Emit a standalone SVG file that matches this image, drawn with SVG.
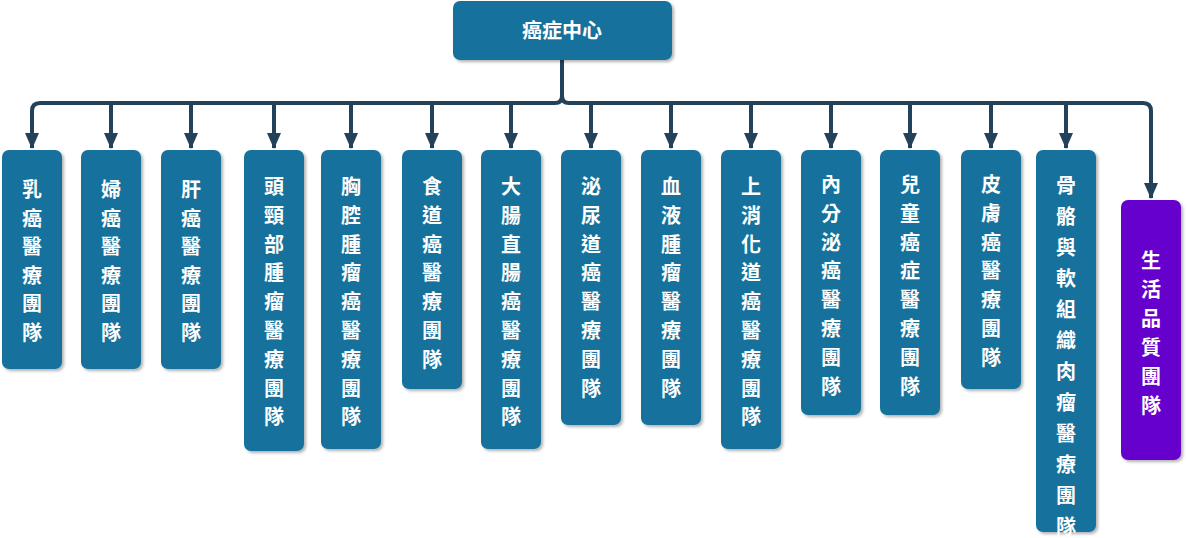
<svg xmlns="http://www.w3.org/2000/svg" width="1187" height="538" viewBox="0 0 1187 538">
<defs>
<marker id="ah" markerWidth="16" markerHeight="14" refX="15" refY="7" orient="auto" markerUnits="userSpaceOnUse"><path d="M0,0 L16,7 L0,14 Z" fill="#23425a"/></marker>
<filter id="sh" x="-20%" y="-20%" width="140%" height="140%"><feDropShadow dx="2" dy="2" stdDeviation="1.5" flood-color="#000" flood-opacity="0.3"/></filter>
<style>
.n{fill:#12729c;filter:url(#sh)}
.p{fill:#6600cc;filter:url(#sh)}
text{font-family:"Noto Sans CJK TC","Noto Sans CJK SC",sans-serif;font-weight:bold;font-size:20px;fill:#fff;text-anchor:middle}
.c{fill:none;stroke:#23425a;stroke-width:4;stroke-linejoin:round}
</style>
</defs>
<g id="connectors">
<path class="c" d="M562,60 V96 Q562,103 555,103 H40 Q32,103 32,111 V148" marker-end="url(#ah)"/>
<path class="c" d="M562,96 Q562,103 569,103 H1143 Q1151,103 1151,111 V198" marker-end="url(#ah)"/>
<path class="c" d="M111,103 Q111,110 111,148" marker-end="url(#ah)"/>
<path class="c" d="M191,103 V148" marker-end="url(#ah)"/>
<path class="c" d="M274,103 V148" marker-end="url(#ah)"/>
<path class="c" d="M351,103 V148" marker-end="url(#ah)"/>
<path class="c" d="M432,103 V148" marker-end="url(#ah)"/>
<path class="c" d="M511,103 V148" marker-end="url(#ah)"/>
<path class="c" d="M591,103 V148" marker-end="url(#ah)"/>
<path class="c" d="M671,103 V148" marker-end="url(#ah)"/>
<path class="c" d="M751,103 V148" marker-end="url(#ah)"/>
<path class="c" d="M831,103 V148" marker-end="url(#ah)"/>
<path class="c" d="M910,103 V148" marker-end="url(#ah)"/>
<path class="c" d="M991,103 V148" marker-end="url(#ah)"/>
<path class="c" d="M1066,103 V148" marker-end="url(#ah)"/>
</g>
<g id="root"><rect class="n" x="453" y="1" width="219" height="59" rx="7"/><text x="562" y="38">癌症中心</text></g>
<g id="n1"><rect class="n" x="2" y="150" width="60" height="219" rx="7"/><text x="32" y="197"><tspan x="32">乳</tspan><tspan x="32" dy="28.5">癌</tspan><tspan x="32" dy="28.5">醫</tspan><tspan x="32" dy="28.5">療</tspan><tspan x="32" dy="28.5">團</tspan><tspan x="32" dy="28.5">隊</tspan></text></g>
<g id="n2"><rect class="n" x="81" y="150" width="60" height="219" rx="7"/><text x="111" y="197"><tspan x="111">婦</tspan><tspan x="111" dy="28.5">癌</tspan><tspan x="111" dy="28.5">醫</tspan><tspan x="111" dy="28.5">療</tspan><tspan x="111" dy="28.5">團</tspan><tspan x="111" dy="28.5">隊</tspan></text></g>
<g id="n3"><rect class="n" x="161" y="150" width="60" height="219" rx="7"/><text x="191" y="197"><tspan x="191">肝</tspan><tspan x="191" dy="28.5">癌</tspan><tspan x="191" dy="28.5">醫</tspan><tspan x="191" dy="28.5">療</tspan><tspan x="191" dy="28.5">團</tspan><tspan x="191" dy="28.5">隊</tspan></text></g>
<g id="n4"><rect class="n" x="244" y="150" width="60" height="301" rx="7"/><text x="274" y="194"><tspan x="274">頭</tspan><tspan x="274" dy="28.8">頸</tspan><tspan x="274" dy="28.8">部</tspan><tspan x="274" dy="28.8">腫</tspan><tspan x="274" dy="28.8">瘤</tspan><tspan x="274" dy="28.8">醫</tspan><tspan x="274" dy="28.8">療</tspan><tspan x="274" dy="28.8">團</tspan><tspan x="274" dy="28.8">隊</tspan></text></g>
<g id="n5"><rect class="n" x="321" y="150" width="60" height="299" rx="7"/><text x="351" y="194"><tspan x="351">胸</tspan><tspan x="351" dy="28.8">腔</tspan><tspan x="351" dy="28.8">腫</tspan><tspan x="351" dy="28.8">瘤</tspan><tspan x="351" dy="28.8">癌</tspan><tspan x="351" dy="28.8">醫</tspan><tspan x="351" dy="28.8">療</tspan><tspan x="351" dy="28.8">團</tspan><tspan x="351" dy="28.8">隊</tspan></text></g>
<g id="n6"><rect class="n" x="402" y="150" width="60" height="239" rx="7"/><text x="432" y="194"><tspan x="432">食</tspan><tspan x="432" dy="28.8">道</tspan><tspan x="432" dy="28.8">癌</tspan><tspan x="432" dy="28.8">醫</tspan><tspan x="432" dy="28.8">療</tspan><tspan x="432" dy="28.8">團</tspan><tspan x="432" dy="28.8">隊</tspan></text></g>
<g id="n7"><rect class="n" x="481" y="150" width="60" height="299" rx="7"/><text x="511" y="194"><tspan x="511">大</tspan><tspan x="511" dy="28.8">腸</tspan><tspan x="511" dy="28.8">直</tspan><tspan x="511" dy="28.8">腸</tspan><tspan x="511" dy="28.8">癌</tspan><tspan x="511" dy="28.8">醫</tspan><tspan x="511" dy="28.8">療</tspan><tspan x="511" dy="28.8">團</tspan><tspan x="511" dy="28.8">隊</tspan></text></g>
<g id="n8"><rect class="n" x="561" y="150" width="60" height="275" rx="7"/><text x="591" y="194"><tspan x="591">泌</tspan><tspan x="591" dy="28.8">尿</tspan><tspan x="591" dy="28.8">道</tspan><tspan x="591" dy="28.8">癌</tspan><tspan x="591" dy="28.8">醫</tspan><tspan x="591" dy="28.8">療</tspan><tspan x="591" dy="28.8">團</tspan><tspan x="591" dy="28.8">隊</tspan></text></g>
<g id="n9"><rect class="n" x="641" y="150" width="60" height="275" rx="7"/><text x="671" y="194"><tspan x="671">血</tspan><tspan x="671" dy="28.8">液</tspan><tspan x="671" dy="28.8">腫</tspan><tspan x="671" dy="28.8">瘤</tspan><tspan x="671" dy="28.8">醫</tspan><tspan x="671" dy="28.8">療</tspan><tspan x="671" dy="28.8">團</tspan><tspan x="671" dy="28.8">隊</tspan></text></g>
<g id="n10"><rect class="n" x="721" y="150" width="60" height="299" rx="7"/><text x="751" y="194"><tspan x="751">上</tspan><tspan x="751" dy="28.8">消</tspan><tspan x="751" dy="28.8">化</tspan><tspan x="751" dy="28.8">道</tspan><tspan x="751" dy="28.8">癌</tspan><tspan x="751" dy="28.8">醫</tspan><tspan x="751" dy="28.8">療</tspan><tspan x="751" dy="28.8">團</tspan><tspan x="751" dy="28.8">隊</tspan></text></g>
<g id="n11"><rect class="n" x="801" y="150" width="60" height="265" rx="7"/><text x="831" y="192"><tspan x="831">內</tspan><tspan x="831" dy="28.8">分</tspan><tspan x="831" dy="28.8">泌</tspan><tspan x="831" dy="28.8">癌</tspan><tspan x="831" dy="28.8">醫</tspan><tspan x="831" dy="28.8">療</tspan><tspan x="831" dy="28.8">團</tspan><tspan x="831" dy="28.8">隊</tspan></text></g>
<g id="n12"><rect class="n" x="880" y="150" width="60" height="265" rx="7"/><text x="910" y="192"><tspan x="910">兒</tspan><tspan x="910" dy="28.8">童</tspan><tspan x="910" dy="28.8">癌</tspan><tspan x="910" dy="28.8">症</tspan><tspan x="910" dy="28.8">醫</tspan><tspan x="910" dy="28.8">療</tspan><tspan x="910" dy="28.8">團</tspan><tspan x="910" dy="28.8">隊</tspan></text></g>
<g id="n13"><rect class="n" x="961" y="150" width="60" height="239" rx="7"/><text x="991" y="192"><tspan x="991">皮</tspan><tspan x="991" dy="28.8">膚</tspan><tspan x="991" dy="28.8">癌</tspan><tspan x="991" dy="28.8">醫</tspan><tspan x="991" dy="28.8">療</tspan><tspan x="991" dy="28.8">團</tspan><tspan x="991" dy="28.8">隊</tspan></text></g>
<g id="n14"><rect class="n" x="1036" y="150" width="60" height="382" rx="7"/><text x="1066" y="193"><tspan x="1066">骨</tspan><tspan x="1066" dy="31">骼</tspan><tspan x="1066" dy="31">與</tspan><tspan x="1066" dy="31">軟</tspan><tspan x="1066" dy="31">組</tspan><tspan x="1066" dy="31">織</tspan><tspan x="1066" dy="31">肉</tspan><tspan x="1066" dy="31">瘤</tspan><tspan x="1066" dy="31">醫</tspan><tspan x="1066" dy="31">療</tspan><tspan x="1066" dy="31">團</tspan><tspan x="1066" dy="31">隊</tspan></text></g>
<g id="n15"><rect class="p" x="1121" y="200" width="60" height="260" rx="7"/><text x="1151" y="268"><tspan x="1151">生</tspan><tspan x="1151" dy="29">活</tspan><tspan x="1151" dy="29">品</tspan><tspan x="1151" dy="29">質</tspan><tspan x="1151" dy="29">團</tspan><tspan x="1151" dy="29">隊</tspan></text></g>
</svg>
